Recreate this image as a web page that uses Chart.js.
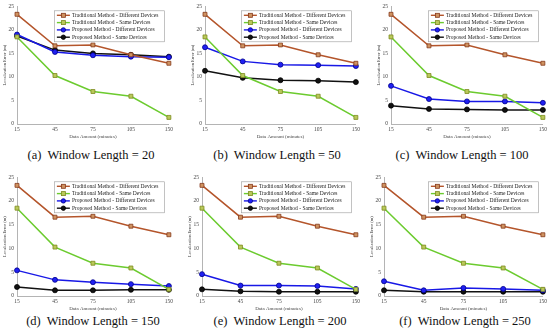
<!DOCTYPE html>
<html>
<head>
<meta charset="utf-8">
<script src="https://cdn.jsdelivr.net/npm/chart.js@4.4.1/dist/chart.umd.min.js"></script>
<style>
  body { margin: 0; background: #fff; width: 550px; height: 331px; position: relative; overflow: hidden; }
  canvas { position: absolute; }
  .caption {
    position: absolute;
    font-family: 'Liberation Serif', 'Times New Roman', serif;
    font-size: 12.5px;
    color: #111;
    white-space: nowrap;
    transform: translate(-50%, -50%);
  }
</style>
</head>
<body>
<canvas id="c0"></canvas>
<canvas id="c1"></canvas>
<canvas id="c2"></canvas>
<canvas id="c3"></canvas>
<canvas id="c4"></canvas>
<canvas id="c5"></canvas>
<div class="caption" id="cap0"></div>
<div class="caption" id="cap1"></div>
<div class="caption" id="cap2"></div>
<div class="caption" id="cap3"></div>
<div class="caption" id="cap4"></div>
<div class="caption" id="cap5"></div>

<script>
// --- Dados ---
const dataAmount = ['15', '45', '75', '105', '150'];
const yTicks = [0, 5, 10, 15, 20, 25];
const panelLetters = ['a', 'b', 'c', 'd', 'e', 'f'];
const windowLengths = [20, 50, 100, 150, 200, 250];
const seriesNames = [
    'Traditional Method - Different Devices',
    'Traditional Method - Same Devices',
    'Proposed Method - Different Devices',
    'Proposed Method - Same Devices'
];

// métodos tradicionais: iguais em todos os painéis
const traditionalDifferent = [23.3, 16.6, 16.8, 14.7, 12.9];
const traditionalSame = [18.5, 10.3, 6.9, 5.9, 1.4];

// método proposto, um array por comprimento de janela
const proposedDifferent20 = [19.0, 15.3, 14.6, 14.3, 14.2];
const proposedSame20 = [18.7, 15.7, 15.0, 14.7, 14.3];
const proposedDifferent50 = [16.3, 13.3, 12.6, 12.5, 12.3];
const proposedSame50 = [11.3, 9.8, 9.3, 9.2, 8.9];
const proposedDifferent100 = [8.1, 5.3, 4.8, 4.8, 4.5];
const proposedSame100 = [3.9, 3.2, 3.1, 3.0, 3.0];
const proposedDifferent150 = [5.4, 3.4, 2.9, 2.5, 2.1];
const proposedSame150 = [1.9, 1.2, 1.2, 1.3, 1.3];
const proposedDifferent200 = [4.6, 2.2, 2.2, 2.1, 1.5];
const proposedSame200 = [1.4, 1.0, 0.9, 0.9, 0.9];
const proposedDifferent250 = [3.1, 1.2, 1.7, 1.5, 1.2];
const proposedSame250 = [1.2, 0.9, 0.9, 0.9, 0.9];

const proposedDifferent = [proposedDifferent20, proposedDifferent50, proposedDifferent100,
    proposedDifferent150, proposedDifferent200, proposedDifferent250];
const proposedSame = [proposedSame20, proposedSame50, proposedSame100,
    proposedSame150, proposedSame200, proposedSame250];

// --- Layout (posições em px da área do gráfico) ---
const LAYOUT = [
    { left: 17,  right: 169, top: 6,   bottom: 124, capX: 91,  capY: 155 },
    { left: 205, right: 356, top: 6,   bottom: 124, capX: 277, capY: 155 },
    { left: 391, right: 543, top: 6,   bottom: 124, capX: 462, capY: 155 },
    { left: 17,  right: 169, top: 177, bottom: 296, capX: 93,  capY: 321 },
    { left: 202, right: 356, top: 177, bottom: 296, capX: 280, capY: 321 },
    { left: 384, right: 543, top: 177, bottom: 296, capX: 465, capY: 321 }
];
const Y_AXIS_W = 17;
const X_AXIS_H = 17;
const PAD_TOP = 6;
const PAD_RIGHT = 6;
const SERIF = "'Liberation Serif', 'Times New Roman', serif";

const STYLES = [
    { line: '#B4552B', fill: '#CF9361', edge: '#85391A', shape: 'rect' },
    { line: '#6CCB2F', fill: '#B9C95A', edge: '#7D8A20', shape: 'rect' },
    { line: '#1818E6', fill: '#2020F2', edge: '#00008B', shape: 'circle' },
    { line: '#111111', fill: '#111111', edge: '#000000', shape: 'circle' }
];

// --- Plugin: legenda em caixa dentro da área do gráfico ---
const legendaCaixa = {
    id: 'legendaCaixa',
    afterDatasetsDraw(chart) {
        const { ctx, chartArea } = chart;
        const boxW = 111, boxH = 32, rowH = 7.3;
        const x0 = chartArea.right - 4 - boxW;
        const y0 = chartArea.top + 4;
        ctx.save();
        ctx.fillStyle = '#fff';
        ctx.fillRect(x0, y0, boxW, boxH);
        ctx.strokeStyle = '#9a9a9a';
        ctx.lineWidth = 0.6;
        ctx.strokeRect(x0 + 0.5, y0 + 0.5, boxW - 1, boxH - 1);
        ctx.font = '5.5px ' + SERIF;
        ctx.textBaseline = 'middle';
        chart.data.datasets.forEach((ds, i) => {
            const st = STYLES[i];
            const y = y0 + 5 + i * rowH;
            ctx.strokeStyle = st.line;
            ctx.lineWidth = 1.4;
            ctx.beginPath();
            ctx.moveTo(x0 + 3, y);
            ctx.lineTo(x0 + 16, y);
            ctx.stroke();
            ctx.fillStyle = st.fill;
            ctx.strokeStyle = st.edge;
            ctx.lineWidth = 0.8;
            if (st.shape === 'rect') {
                ctx.fillRect(x0 + 7.5, y - 2, 4, 4);
                ctx.strokeRect(x0 + 7.5, y - 2, 4, 4);
            } else {
                ctx.beginPath();
                ctx.arc(x0 + 9.5, y, 2.2, 0, Math.PI * 2);
                ctx.fill();
                ctx.stroke();
            }
            ctx.fillStyle = '#222';
            ctx.fillText(ds.label, x0 + 18, y);
        });
        ctx.restore();
    }
};

function montarDatasets(idx) {
    const valores = [traditionalDifferent, traditionalSame, proposedDifferent[idx], proposedSame[idx]];
    return valores.map((v, i) => ({
        label: seriesNames[i],
        data: v,
        borderColor: STYLES[i].line,
        borderWidth: 1.5,
        tension: 0,
        pointStyle: STYLES[i].shape,
        pointRadius: STYLES[i].shape === 'rect' ? 2.8 : 2.5,
        pointBackgroundColor: STYLES[i].fill,
        pointBorderColor: STYLES[i].edge,
        pointBorderWidth: 0.8
    }));
}

function criarPainel(idx) {
    const L = LAYOUT[idx];
    const canvas = document.getElementById('c' + idx);
    const cLeft = L.left - Y_AXIS_W;
    const cTop = L.top - PAD_TOP;
    const w = L.right - cLeft + PAD_RIGHT;
    const h = L.bottom - cTop + X_AXIS_H;
    canvas.width = w;
    canvas.height = h;
    canvas.style.left = cLeft + 'px';
    canvas.style.top = cTop + 'px';
    canvas.style.width = w + 'px';
    canvas.style.height = h + 'px';

    const cap = document.getElementById('cap' + idx);
    cap.textContent = '(' + panelLetters[idx] + ')\u00a0 Window Length = ' + windowLengths[idx];
    cap.style.left = L.capX + 'px';
    cap.style.top = L.capY + 'px';

    new Chart(canvas, {
        type: 'line',
        data: { labels: dataAmount, datasets: montarDatasets(idx) },
        options: {
            responsive: false,
            animation: false,
            devicePixelRatio: 1,
            layout: { padding: { top: PAD_TOP, right: PAD_RIGHT, left: 0, bottom: 0 } },
            plugins: {
                legend: { display: false },
                tooltip: { enabled: false }
            },
            scales: {
                x: {
                    type: 'category',
                    offset: false,
                    grid: { display: false, drawTicks: false },
                    border: { display: true, color: '#b4b4b4', width: 1 },
                    ticks: { font: { family: SERIF, size: 5.5 }, color: '#444', padding: 2, maxRotation: 0, autoSkip: false },
                    title: {
                        display: true, text: 'Data Amount (minutes)',
                        font: { family: SERIF, size: 5 }, color: '#444',
                        padding: { top: 0, bottom: 1.5 }
                    },
                    afterFit: s => { s.height = X_AXIS_H; }
                },
                y: {
                    min: 0,
                    max: 25,
                    afterBuildTicks: s => { s.ticks = yTicks.map(v => ({ value: v })); },
                    grid: { display: false, drawTicks: false },
                    border: { display: true, color: '#b4b4b4', width: 1 },
                    ticks: { font: { family: SERIF, size: 5.5 }, color: '#444', padding: 3 },
                    title: {
                        display: true, text: 'Localization Error (m)',
                        font: { family: SERIF, size: 4.5 }, color: '#444',
                        padding: { top: 2, bottom: 0 }
                    },
                    afterFit: s => { s.width = Y_AXIS_W; }
                }
            }
        },
        plugins: [legendaCaixa]
    });
}

document.addEventListener('DOMContentLoaded', () => {
    for (let i = 0; i < LAYOUT.length; i++) criarPainel(i);
});
</script>
</body>
</html>
